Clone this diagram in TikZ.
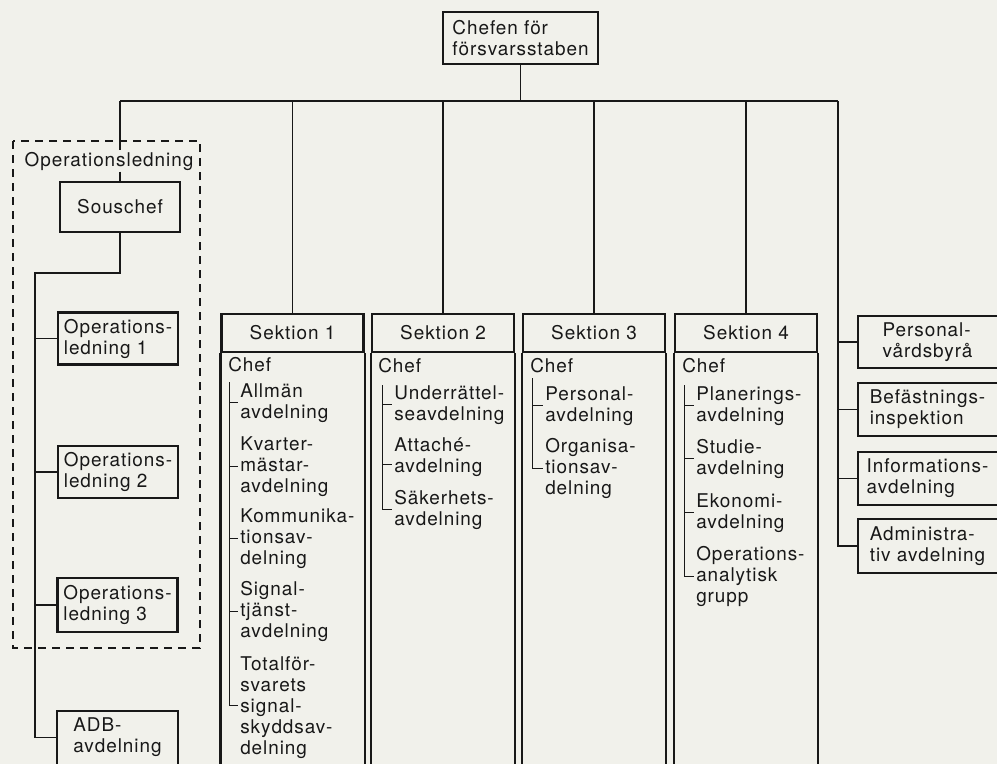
\documentclass[tikz,border=0pt]{standalone}
\usepackage{fontspec}
\setmainfont{TeX Gyre Heros}[LetterSpace=5]
\usetikzlibrary{positioning}

\definecolor{paper}{RGB}{241,241,235}
\definecolor{ink}{RGB}{24,24,24}

\tikzset{
  every node/.style={font=\fontsize{14.2pt}{15.75pt}\selectfont, text=ink},
  unit/.style={draw=ink, line width=1.6pt, inner sep=0pt, align=left, minimum width=90pt, minimum height=39pt},
  openunit/.style={inner sep=0pt, align=left, minimum height=39pt},
  sekhead/.style={draw=ink, line width=1.6pt, inner sep=0pt, minimum width=106.5pt, minimum height=28.5pt},
  dept/.style={inner sep=0pt, align=left, anchor=base west},
  link/.style={draw=ink, line width=1pt},
  frame/.style={draw=ink, line width=1.6pt},
  brace/.style={draw=ink, line width=0.7pt},
}

\begin{document}
\begin{tikzpicture}[x=0.75pt,y=0.75pt,yscale=-1,xscale=1]
\useasboundingbox [fill=paper] (0,0) rectangle (997,764);
\coordinate (floor) at (0,764);

%Shape: Rectangle [chief of staff]
\node (chef) at (520.5,38) [unit, minimum width=116.25pt] {Chefen för\\försvarsstaben};

% Operationsledning group
\draw [link, dash pattern=on 6pt off 4.5pt] (13,141) rectangle (200,648);
\node (oplbl) at (109,161) [inner sep=1pt] {Operationsledning};
\node (sous) at (120,207) [unit, align=center, minimum height=37.5pt] {Souschef};
\node (op1) at (118,338.5) [unit] {Operations-\\ledning 1};
\node (op2) at (118,472) [unit] {Operations-\\ledning 2};
\node (op3) at (117.5,605) [unit, minimum height=40.5pt] {Operations-\\ledning 3};
\node (adb) at (117.5,737.5) [openunit, minimum width=90pt] {ADB-\\avdelning};
\draw [frame] (adb.north west |- floor) -- (adb.north west) -- (adb.north east) -- (adb.north east |- floor);

% Sections
\node (s1) at (292.5,333) [sekhead] {Sektion 1};
\node (s2) at (443,333) [sekhead] {Sektion 2};
\node (s3) at (594,333) [sekhead] {Sektion 3};
\node (s4) at (746,333) [sekhead] {Sektion 4};
\draw [frame] (s1.south west) -- (s1.south west |- floor);
\draw [frame] (s1.south east) -- (s1.south east |- floor);
\draw [frame] (s2.south west) -- (s2.south west |- floor);
\draw [frame] (s2.south east) -- (s2.south east |- floor);
\draw [frame] (s3.south west) -- (s3.south west |- floor);
\draw [frame] (s3.south east) -- (s3.south east |- floor);
\draw [frame] (s4.south west) -- (s4.south west |- floor);
\draw [frame] (s4.south east) -- (s4.south east |- floor);

% Sektion 1 (base = last line)
\node (s1c) at (228,371) [dept] {Chef};
\coordinate (s1bar) at (229,382);
\node (s1a) at (240,418) [dept] {Allmän\\avdelning};
\node (s1b) at (240,492) [dept] {Kvarter-\\mästar-\\avdelning};
\node (s1d) at (240,564) [dept] {Kommunika-\\tionsav-\\delning};
\node (s1s) at (240,637) [dept] {Signal-\\tjänst-\\avdelning};
\node (s1t) at (240,754) [dept] {Totalför-\\svarets\\signal-\\skyddsav-\\delning};
\coordinate (s1tick) at ([yshift=-36.75pt,xshift=-1.5pt]s1t.base west);
\draw [brace] (s1bar) -- (s1bar |- s1tick) -- (s1tick);
\draw [brace] (s1bar |- s1a.west) -- ([xshift=-1.5pt]s1a.west);
\draw [brace] (s1bar |- s1b.west) -- ([xshift=-1.5pt]s1b.west);
\draw [brace] (s1bar |- s1d.west) -- ([xshift=-1.5pt]s1d.west);
\draw [brace] (s1bar |- s1s.west) -- ([xshift=-1.5pt]s1s.west);

% Sektion 2
\node (s2c) at (378,372) [dept] {Chef};
\coordinate (s2bar) at (382,385);
\node (s2a) at (394,420) [dept] {Underrättel-\\seavdelning};
\node (s2b) at (394,472) [dept] {Attaché-\\avdelning};
\node (s2d) at (394,525) [dept] {Säkerhets-\\avdelning};
\coordinate (s2tick) at ([yshift=6pt,xshift=-1.5pt]s2b.west);
\draw [brace] (s2bar) -- (s2bar |- s2d.west) -- ([xshift=-1.5pt]s2d.west);
\draw [brace] (s2bar |- s2a.west) -- ([xshift=-1.5pt]s2a.west);
\draw [brace] (s2bar |- s2tick) -- (s2tick);

% Sektion 3
\node (s3c) at (530,372) [dept] {Chef};
\coordinate (s3bar) at (532,378);
\node (s3a) at (545,421) [dept] {Personal-\\avdelning};
\node (s3b) at (545,494) [dept] {Organisa-\\tionsav-\\delning};
\draw [brace] (s3bar) -- (s3bar |- s3b.west) -- ([xshift=-1.5pt]s3b.west);
\draw [brace] (s3bar |- s3a.west) -- ([xshift=-1.5pt]s3a.west);

% Sektion 4
\node (s4c) at (682,372) [dept] {Chef};
\coordinate (s4bar) at (684,385);
\node (s4a) at (696,421) [dept] {Planerings-\\avdelning};
\node (s4b) at (696,474) [dept] {Studie-\\avdelning};
\node (s4d) at (696,528) [dept] {Ekonomi-\\avdelning};
\node (s4e) at (696,602) [dept] {Operations-\\analytisk\\grupp};
\draw [brace] (s4bar) -- (s4bar |- s4e.west) -- ([xshift=-1.5pt]s4e.west);
\draw [brace] (s4bar |- s4a.west) -- ([xshift=-1.5pt]s4a.west);
\draw [brace] (s4bar |- s4b.west) -- ([xshift=-1.5pt]s4b.west);
\draw [brace] (s4bar |- s4d.west) -- ([xshift=-1.5pt]s4d.west);

% Staff units on the right
\node (pers) at (927.5,342) [openunit, minimum width=104.25pt] {Personal-\\vårdsbyrå};
\node (befa) at (927.5,409.5) [openunit, minimum width=104.25pt, minimum height=39.75pt] {Befästnings-\\inspektion};
\node (info) at (927.5,478.5) [openunit, minimum width=104.25pt, minimum height=39.75pt] {Informations-\\avdelning};
\node (adm) at (927.5,546) [openunit, minimum width=104.25pt, minimum height=40.5pt] {Administra-\\tiv avdelning};
\draw [frame] (pers.north east) -- (pers.north west) -- (pers.south west) -- (pers.south east);
\draw [frame] (befa.north east) -- (befa.north west) -- (befa.south west) -- (befa.south east);
\draw [frame] (info.north east) -- (info.north west) -- (info.south west) -- (info.south east);
\draw [frame] (adm.north east) -- (adm.north west) -- (adm.south west) -- (adm.south east);

% Connections
\coordinate (busL) at (120,101);
\coordinate (busR) at (838,101);
\draw [link] (chef.south) -- (chef.south |- busL);
\draw [link] (busL) -- (busR);
\draw [link] (busL) -- (oplbl.north -| busL);
\draw [link] (oplbl.south -| busL) -- (sous.north);
\draw [link] (s1.north |- busL) -- (s1.north);
\draw [link] (s2.north |- busL) -- (s2.north);
\draw [link] (s3.north |- busL) -- (s3.north);
\draw [link] (s4.north |- busL) -- (s4.north);
\draw [link] (busR) -- (busR |- adm.west) -- (adm.west);
\draw [link] (busR |- pers.west) -- (pers.west);
\draw [link] (busR |- befa.west) -- (befa.west);
\draw [link] (busR |- info.west) -- (info.west);

\coordinate (opbar) at (35,273);
\draw [link] (sous.south) -- (sous.south |- opbar) -- (opbar) -- (opbar |- adb.west) -- (adb.west);
\draw [link] (opbar |- op1.west) -- (op1.west);
\draw [link] (opbar |- op2.west) -- (op2.west);
\draw [link] (opbar |- op3.west) -- (op3.west);

\end{tikzpicture}
\end{document}
